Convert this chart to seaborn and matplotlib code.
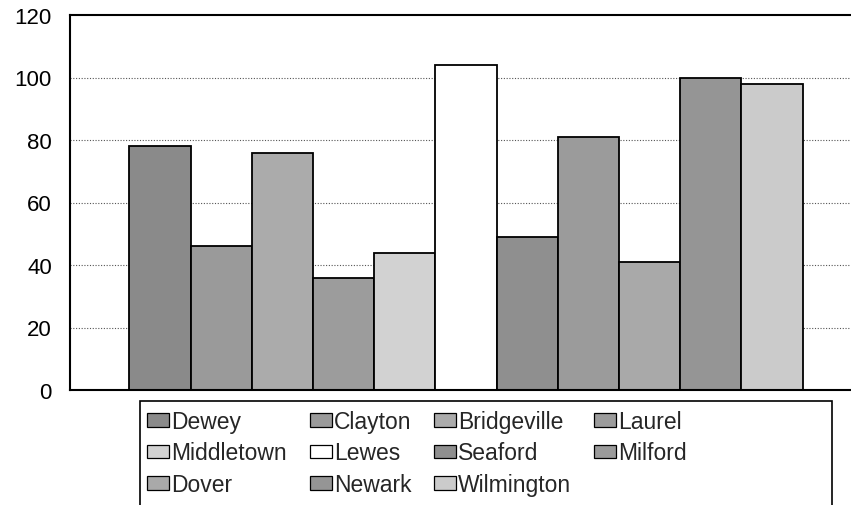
import matplotlib
matplotlib.use("Agg")
import matplotlib.pyplot as plt
import pandas as pd
import seaborn as sns
from matplotlib.patches import Patch, Rectangle

# Town values shown as one cluster of bars
cities = ["Dewey", "Clayton", "Bridgeville", "Laurel", "Middletown", "Lewes",
          "Seaford", "Milford", "Dover", "Newark", "Wilmington"]
values = [78, 46, 76, 36, 44, 104, 49, 81, 41, 100, 98]
yticks = [0, 20, 40, 60, 80, 100, 120]

# Grey shades for each town
shades = ["#8a8a8a", "#9a9a9a", "#ababab", "#9c9c9c", "#d2d2d2", "#ffffff",
          "#8f8f8f", "#9b9b9b", "#a9a9a9", "#959595", "#cbcbcb"]
palette = dict(zip(cities, shades))

sns.set_theme(style="white")
plt.rcParams["font.family"] = ["Liberation Sans", "DejaVu Sans"]

fig = plt.figure(figsize=(8.51, 5.06), dpi=100)
ax = fig.add_axes([70 / 851, 115 / 506, 792 / 851, 375 / 506])

df = pd.DataFrame({"group": [""] * len(cities), "city": cities, "value": values})
sns.barplot(data=df, x="group", y="value", hue="city", hue_order=cities,
            palette=palette, saturation=1, width=0.85, edgecolor="black",
            linewidth=1.3, legend=False, ax=ax)

ax.set_xlim(-0.5, 0.5)
ax.set_ylim(0, 120)
ax.set_yticks(yticks)
ax.set_yticklabels([str(t) for t in yticks], fontsize=16, color="black")
ax.set_xticks([])
ax.set_xlabel("")
ax.set_ylabel("")
ax.tick_params(axis="y", length=0, pad=13)
ax.set_axisbelow(True)
for t in yticks[1:-1]:
    ax.axhline(t, color="#555555", linestyle=(0, (1, 1.5)), linewidth=0.8, zorder=0)
for side in ["left", "bottom", "top"]:
    ax.spines[side].set_color("black")
    ax.spines[side].set_linewidth(1.5)
ax.spines["right"].set_visible(False)

# Legend laid out row by row: Dewey, Clayton, Bridgeville, Laurel / ...
handles = {c: Patch(facecolor=palette[c], edgecolor="black", linewidth=0.9) for c in cities}
ncol = 4
rows = [cities[i:i + ncol] for i in range(0, len(cities), ncol)]
order = []
for col in range(ncol):
    for row in rows:
        if col < len(row):
            order.append(row[col])
fig.legend([handles[c] for c in order], order, ncol=ncol, loc="upper left",
           bbox_to_anchor=(147 / 851, 1 - 411 / 506), frameon=False,
           fontsize=16.5, handlelength=0.96, handleheight=0.52,
           handletextpad=0.09, columnspacing=1.0, labelspacing=0.37,
           borderpad=0, borderaxespad=0)

fig.patches.append(Rectangle((140 / 851, -0.02), (832 - 140) / 851, 0.02 + 1 - 402 / 506,
                             transform=fig.transFigure, fill=False,
                             edgecolor="black", linewidth=1.2))

fig.savefig("out.png", dpi=100)
